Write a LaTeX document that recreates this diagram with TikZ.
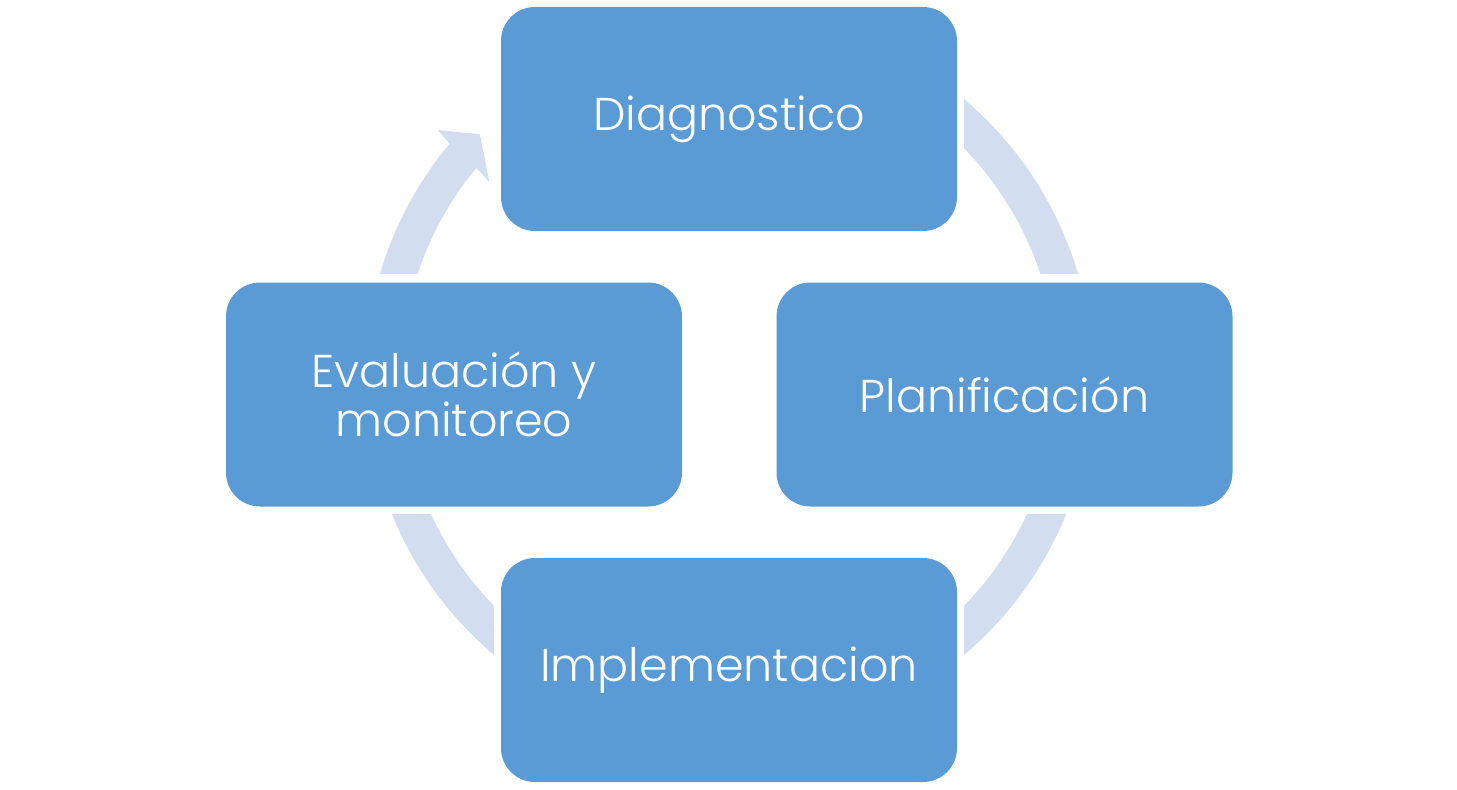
\documentclass[tikz,border=0pt]{standalone}
\usepackage{fontspec}
\setmainfont{Poppins}[UprightFont=* Light]
\usetikzlibrary{calc}
\definecolor{boxblue}{RGB}{91,155,213}
\definecolor{ringblue}{RGB}{210,222,239}
\tikzset{
  stepbox/.style={draw=none, fill=boxblue, rounded corners=17pt, minimum width=228pt,
    minimum height=112pt, inner sep=0pt, align=center, text=white,
    font=\fontsize{23}{24.5}\selectfont},
  ring/.style={fill=ringblue, draw=none}
}
\begin{document}
\begin{tikzpicture}[x=0.5pt, y=0.5pt]
\useasboundingbox (0,0) rectangle (1457,789);
\coordinate (C) at (729,412);
% ring segments
\fill[ring] ($(C)+(49.79:182pt)$) arc[start angle=49.79, end angle=16.44, radius=182pt]
  -- ($(C)+(18.30:164pt)$) arc[start angle=18.30, end angle=44.23, radius=164pt] -- cycle;
\fill[ring] ($(C)+(-22.11:182pt)$) arc[start angle=-22.11, end angle=-49.79, radius=182pt]
  -- ($(C)+(-44.23:164pt)$) arc[start angle=-44.23, end angle=-24.69, radius=164pt] -- cycle;
\fill[ring] ($(C)+(202.11:182pt)$) arc[start angle=202.11, end angle=229.79, radius=182pt]
  -- ($(C)+(224.23:164pt)$) arc[start angle=224.23, end angle=204.69, radius=164pt] -- cycle;
\fill[ring] ($(C)+(163.56:182pt)$) arc[start angle=163.56, end angle=140.13, radius=182pt]
  -- ($(C)+(139.70:190.95pt)$) -- ($(C)+(135.74:173.85pt)$) -- ($(C)+(140.83:154.6pt)$)
  -- ($(C)+(140.40:164pt)$) arc[start angle=140.40, end angle=161.70, radius=164pt] -- cycle;
% boxes
\node[stepbox] (diag) at (729,670) {Diagnostico};
\node[stepbox] (plan) at (1004.5,394.5) {Planificación};
\node[stepbox] (impl) at (729,119) {Implementacion};
\node[stepbox] (eval) at (454,394.5) {Evaluación y\\monitoreo};
\end{tikzpicture}
\end{document}
